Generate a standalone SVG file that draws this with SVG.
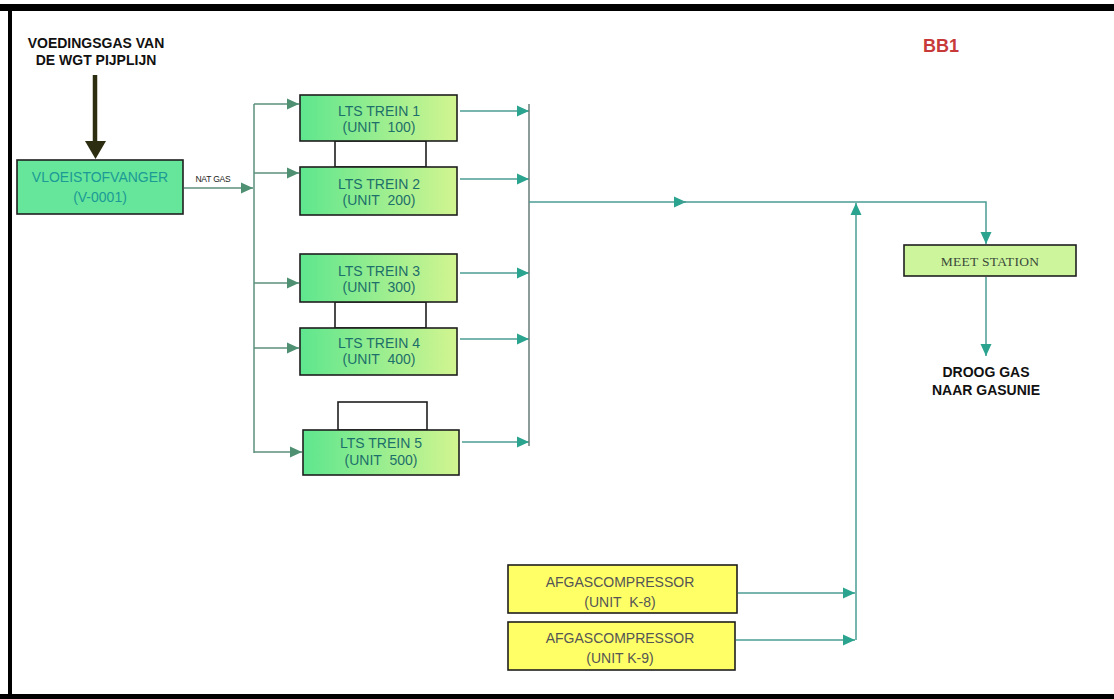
<svg xmlns="http://www.w3.org/2000/svg" width="1114" height="699" viewBox="0 0 1114 699">
<defs>
<style>
.box{stroke:#1e1e1e;stroke-width:1.6}
.lts{fill:url(#ltsg)}
.t{font-family:"Liberation Sans",Arial,sans-serif;font-size:14px;text-anchor:middle}
.tl{fill:#1d6f6a}
.tb{font-family:"Liberation Sans",Arial,sans-serif;font-weight:bold;text-anchor:middle;fill:#111}
.cl{fill:none;stroke:#5c8f7c;stroke-width:1.5}
.cr{fill:none;stroke:#4b9c94;stroke-width:1.5}
.link{fill:#fff;stroke:#1e1e1e;stroke-width:1.6}
</style>
<linearGradient id="ltsg" x1="0" y1="0" x2="1" y2="0">
<stop offset="0" stop-color="#5ee68e"/>
<stop offset="1" stop-color="#d2f590"/>
</linearGradient>
<marker id="ag" markerUnits="userSpaceOnUse" markerWidth="13" markerHeight="13" viewBox="0 0 13 13" refX="12" refY="6.5" orient="auto">
<path d="M0,1 L12,6.5 L0,12 Z" fill="#4f8f72"/>
</marker>
<marker id="at" markerUnits="userSpaceOnUse" markerWidth="13" markerHeight="13" viewBox="0 0 13 13" refX="12" refY="6.5" orient="auto">
<path d="M0,1 L12,6.5 L0,12 Z" fill="#2aa38f"/>
</marker>
</defs>
<rect x="0" y="0" width="1114" height="699" fill="#fff"/>
<g id="frame" fill="#000">
<rect x="0" y="4" width="1114" height="7"/>
<rect x="8" y="4" width="4" height="695"/>
<rect x="0" y="694" width="1114" height="5"/>
</g>

<g id="connectors">
<path d="M95,75 V142" stroke="#2d2d12" stroke-width="4.5" fill="none"/>
<path d="M85,141 L106,141 L95.5,159 Z" fill="#2d2d12"/>
<path class="cl" d="M184,188 H253" marker-end="url(#ag)"/>
<path class="cl" d="M254,104 V453"/>
<path class="cl" d="M254,104 H299" marker-end="url(#ag)"/>
<path class="cl" d="M254,173 H299" marker-end="url(#ag)"/>
<path class="cl" d="M254,283 H299" marker-end="url(#ag)"/>
<path class="cl" d="M254,348 H299" marker-end="url(#ag)"/>
<path class="cl" d="M254,452 H302" marker-end="url(#ag)"/>
<path class="cr" d="M460,111 H529" marker-end="url(#at)"/>
<path class="cr" d="M460,179 H529" marker-end="url(#at)"/>
<path class="cr" d="M460,273 H529" marker-end="url(#at)"/>
<path class="cr" d="M460,339 H529" marker-end="url(#at)"/>
<path class="cr" d="M462,442 H529" marker-end="url(#at)"/>
<path d="M529,104 V446" fill="none" stroke="#667b76" stroke-width="1.5"/>
<path class="cr" d="M529,202 H686" marker-end="url(#at)"/>
<path class="cr" d="M680,202 H986 V244" marker-end="url(#at)"/>
<path class="cr" d="M738,593 H855" marker-end="url(#at)"/>
<path class="cr" d="M736,640 H855" marker-end="url(#at)"/>
<path class="cr" d="M856,640 V203" marker-end="url(#at)"/>
<path class="cr" d="M986,277 V356" marker-end="url(#at)"/>
</g>

<g id="feed">
<text class="tb" x="96" y="48" font-size="14">VOEDINGSGAS VAN</text>
<text class="tb" x="96" y="65" font-size="14">DE WGT PIJPLIJN</text>
</g>

<g id="vloeistofvanger">
<rect class="box" x="17" y="160" width="166" height="54" fill="#66e69a"/>
<text class="t" x="100" y="182" fill="#1b9a96">VLOEISTOFVANGER</text>
<text class="t" x="100" y="202" fill="#1b9a96">(V-0001)</text>
</g>

<g id="natgas">
<text x="213" y="182" font-family="'Liberation Sans',Arial,sans-serif" font-size="8.5" text-anchor="middle" fill="#222" letter-spacing="-0.2">NAT GAS</text>
</g>

<g id="links">
<rect class="link" x="335" y="141" width="91" height="26"/>
<rect class="link" x="335" y="302" width="91" height="26"/>
<rect class="link" x="338" y="402" width="89" height="28"/>
</g>

<g id="lts1">
<rect class="box lts" x="300" y="95" width="157" height="46"/>
<text class="t tl" x="379" y="116">LTS TREIN 1</text>
<text class="t tl" x="379" y="132" xml:space="preserve">(UNIT  100)</text>
</g>
<g id="lts2">
<rect class="box lts" x="300" y="167" width="157" height="48"/>
<text class="t tl" x="379" y="189">LTS TREIN 2</text>
<text class="t tl" x="379" y="205" xml:space="preserve">(UNIT  200)</text>
</g>
<g id="lts3">
<rect class="box lts" x="300" y="254" width="157" height="48"/>
<text class="t tl" x="379" y="276">LTS TREIN 3</text>
<text class="t tl" x="379" y="292" xml:space="preserve">(UNIT  300)</text>
</g>
<g id="lts4">
<rect class="box lts" x="300" y="328" width="157" height="47"/>
<text class="t tl" x="379" y="348">LTS TREIN 4</text>
<text class="t tl" x="379" y="364" xml:space="preserve">(UNIT  400)</text>
</g>
<g id="lts5">
<rect class="box lts" x="303" y="430" width="156" height="45"/>
<text class="t tl" x="381" y="448">LTS TREIN 5</text>
<text class="t tl" x="381" y="465" xml:space="preserve">(UNIT  500)</text>
</g>

<g id="bb1">
<text x="941" y="52" font-family="'Liberation Sans',Arial,sans-serif" font-weight="bold" font-size="18" text-anchor="middle" fill="#c83a3a">BB1</text>
</g>

<g id="meetstation">
<rect class="box" x="904" y="245" width="172" height="31" fill="#cdf59c"/>
<text x="990" y="266" font-family="'Liberation Serif','Times New Roman',serif" font-size="13.5" letter-spacing="0.3" text-anchor="middle" fill="#3a4a3a">MEET STATION</text>
</g>

<g id="droog">
<text class="tb" x="986" y="377" font-size="14">DROOG GAS</text>
<text class="tb" x="986" y="395" font-size="14">NAAR GASUNIE</text>
</g>

<g id="k8">
<rect class="box" x="508" y="565" width="229" height="48" fill="#ffff66"/>
<text class="t" x="620" y="587" fill="#555">AFGASCOMPRESSOR</text>
<text class="t" x="620" y="607" fill="#555" xml:space="preserve">(UNIT  K-8)</text>
</g>
<g id="k9">
<rect class="box" x="508" y="622" width="227" height="48" fill="#ffff66"/>
<text class="t" x="620" y="643" fill="#555">AFGASCOMPRESSOR</text>
<text class="t" x="620" y="663" fill="#555">(UNIT K-9)</text>
</g>
</svg>
